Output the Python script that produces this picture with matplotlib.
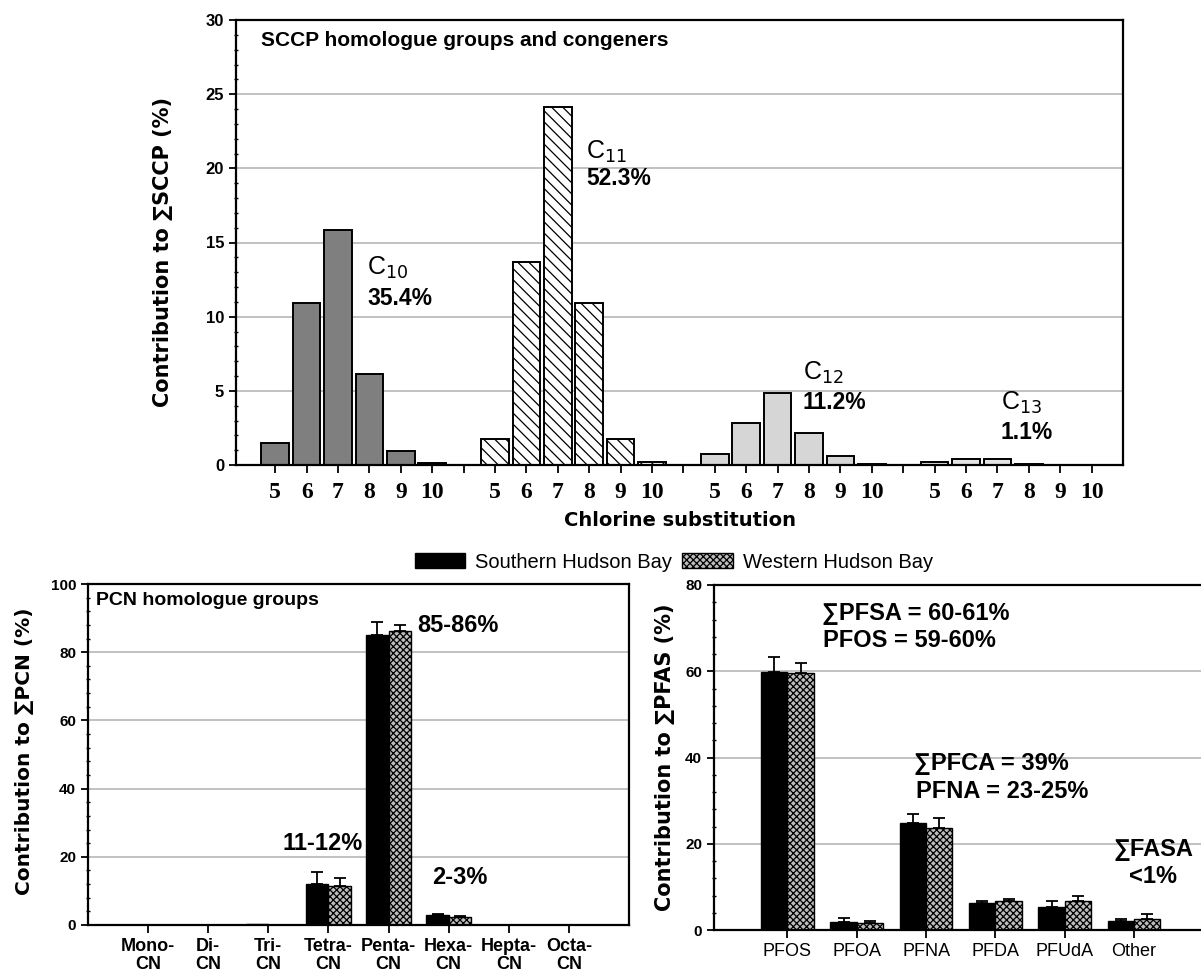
import matplotlib.pyplot as plt
import numpy as np
from matplotlib.patches import Patch
from matplotlib.ticker import AutoMinorLocator, MultipleLocator

W, H = 1201, 977

# SCCP: contribution (%) by chlorine number for each carbon chain length
chlorine = [5, 6, 7, 8, 9, 10]
sccp_names = ["C$_{10}$", "C$_{11}$", "C$_{12}$", "C$_{13}$"]
sccp_totals = ["35.4%", "52.3%", "11.2%", "1.1%"]
c10 = [1.46, 10.9, 15.85, 6.13, 0.97, 0.16]
c11 = [1.73, 13.7, 24.15, 10.9, 1.73, 0.22]
c12 = [0.74, 2.8, 4.87, 2.17, 0.6, 0.1]
c13 = [0.22, 0.38, 0.38, 0.1, 0.0, 0.0]

# PCN homologue groups
pcn_groups = ["Mono-\nCN", "Di-\nCN", "Tri-\nCN", "Tetra-\nCN", "Penta-\nCN",
              "Hexa-\nCN", "Hepta-\nCN", "Octa-\nCN"]
pcn_south = [0.0, 0.0, 0.3, 11.9, 85.0, 2.9, 0.0, 0.0]
pcn_south_err = [0.0, 0.0, 0.0, 3.7, 3.8, 0.3, 0.0, 0.0]
pcn_west = [0.0, 0.0, 0.1, 11.4, 86.2, 2.4, 0.0, 0.0]
pcn_west_err = [0.0, 0.0, 0.0, 2.4, 1.9, 0.2, 0.0, 0.0]

# PFAS
pfas_groups = ["PFOS", "PFOA", "PFNA", "PFDA", "PFUdA", "Other"]
pfas_south = [59.9, 1.8, 24.7, 6.3, 5.4, 2.1]
pfas_south_err = [3.3, 0.9, 2.2, 0.4, 1.3, 0.4]
pfas_west = [59.5, 1.7, 23.6, 6.7, 6.8, 2.6]
pfas_west_err = [2.3, 0.4, 2.4, 0.4, 1.2, 1.1]

NARROW = ["Liberation Sans Narrow", "Liberation Sans", "DejaVu Sans"]
ARIAL = ["Liberation Sans", "DejaVu Sans"]
GRID = "#b0b0b0"
WEST_FACE = "#bdbdbd"
WEST_HATCH = "xxxxx"

plt.rcParams["hatch.linewidth"] = 0.9
plt.rcParams["axes.linewidth"] = 1.6

fig = plt.figure(figsize=(W / 100, H / 100), dpi=100)


def px_axes(l, t, r, b):
    return fig.add_axes([l / W, 1 - b / H, (r - l) / W, (b - t) / H])


def style_y(ax, major, top, fs=11):
    ax.set_ylim(0, top)
    ax.yaxis.set_major_locator(MultipleLocator(major))
    ax.yaxis.set_minor_locator(AutoMinorLocator(5))
    for y in np.arange(major, top, major):
        ax.axhline(y, color=GRID, lw=1.1, zorder=0)
    ax.tick_params(axis="y", which="major", length=5, width=1.3, direction="out")
    ax.tick_params(axis="y", which="minor", length=3, width=1.0, direction="inout")
    ax.tick_params(axis="x", length=6, width=1.3, direction="out")
    for lab in ax.get_yticklabels():
        lab.set_fontfamily(NARROW)
        lab.set_fontweight("bold")
        lab.set_fontsize(fs)


# ---------------- SCCP panel ----------------
ax1 = px_axes(236, 20, 1123, 465)
sccp_series = [c10, c11, c12, c13]
sccp_styles = [("#7f7f7f", None), ("white", "\\\\\\"), ("#d6d6d6", None), ("#e4e4e4", None)]
positions = []
labels = []
for g, (vals, (fc, hatch)) in enumerate(zip(sccp_series, sccp_styles)):
    x = np.arange(len(chlorine)) + g * 7
    ax1.bar(x, vals, width=0.88, color=fc, hatch=hatch, edgecolor="black",
            linewidth=1.4, zorder=2)
    positions.extend(list(x))
    labels.extend([str(c) for c in chlorine])
    if g < 3:
        positions.append(g * 7 + 6)
        labels.append("")
ax1.set_xlim(-1.25, 27)
ax1.set_xticks(positions)
ax1.set_xticklabels(labels, fontfamily=["Liberation Serif", "DejaVu Serif"],
                    fontweight="bold", fontsize=17)
style_y(ax1, 5, 30, fs=12)
ax1.tick_params(axis="x", pad=6)

name_pos = [(2.92, 13.3, 11.2), (9.9, 21.1, 19.3), (16.8, 6.2, 4.2), (23.1, 4.2, 2.2)]
for (x, yn, yp), name, tot in zip(name_pos, sccp_names, sccp_totals):
    ax1.text(x, yn, name, fontsize=18, fontfamily=ARIAL, va="center", ha="left")
    ax1.text(x, yp, tot, fontsize=16.5, fontfamily=ARIAL, fontweight="bold",
             va="center", ha="left")
ax1.text(0.028, 0.955, "SCCP homologue groups and congeners", transform=ax1.transAxes,
         fontsize=15, fontfamily=NARROW, fontweight="bold", va="center", ha="left")
fig.text(163 / W, 1 - 252 / H, "Contribution to \u2211SCCP (%)", rotation=90,
         fontsize=15, fontweight="bold", ha="center", va="center")
fig.text(680 / W, 1 - 521 / H, "Chlorine substitution", fontsize=14,
         fontweight="bold", ha="center", va="center")


def paired_bars(ax, south, south_err, west, west_err, width):
    x = np.arange(len(south))
    ax.bar(x - width / 2, south, width=width, color="black", edgecolor="black",
           linewidth=1.0, zorder=2)
    ax.bar(x + width / 2, west, width=width, color=WEST_FACE, hatch=WEST_HATCH,
           edgecolor="black", linewidth=1.0, zorder=2)
    for off, vals, errs in [(-width / 2, south, south_err), (width / 2, west, west_err)]:
        vals = np.asarray(vals)
        errs = np.asarray(errs)
        m = errs > 0
        ax.errorbar(x[m] + off, vals[m], yerr=[np.zeros(m.sum()), errs[m]], fmt="none",
                    ecolor="black", elinewidth=1.3, capsize=4, capthick=1.3, zorder=3)
    ax.set_xticks(x)
    return x


# ---------------- PCN panel ----------------
ax2 = px_axes(88, 584, 629, 925)
paired_bars(ax2, pcn_south, pcn_south_err, pcn_west, pcn_west_err, 0.37)
ax2.set_xlim(-1, 8)
ax2.set_xticklabels(pcn_groups, fontfamily=NARROW, fontweight="bold", fontsize=13,
                    linespacing=1.1)
style_y(ax2, 20, 100)
ax2.text(0.015, 0.953, "PCN homologue groups", transform=ax2.transAxes, fontsize=14,
         fontfamily=NARROW, fontweight="bold", va="center", ha="left")
for x, y, s in [(4.47, 87.7, "85-86%"), (2.24, 24.0, "11-12%"), (4.72, 14.0, "2-3%")]:
    ax2.text(x, y, s, fontsize=17, fontfamily=ARIAL, fontweight="bold",
             va="center", ha="left")
fig.text(25 / W, 1 - 751 / H, "Contribution to \u2211PCN (%)", rotation=90,
         fontsize=14.5, fontweight="bold", ha="center", va="center")

# ---------------- PFAS panel ----------------
ax3 = px_axes(714, 585, 1238, 930)
paired_bars(ax3, pfas_south, pfas_south_err, pfas_west, pfas_west_err, 0.38)
ax3.set_xlim(-1.06, 6.5)
ax3.set_xticklabels(pfas_groups, fontfamily=ARIAL, fontsize=13)
style_y(ax3, 20, 80)
for x, y, s in [(0.50, 73.5, "\u2211PFSA = 60-61%"), (0.51, 67.2, "PFOS = 59-60%"),
                (1.83, 38.7, "\u2211PFCA = 39%"), (1.86, 32.2, "PFNA = 23-25%"),
                (4.70, 18.6, "\u2211FASA")]:
    ax3.text(x, y, s, fontsize=17, fontfamily=ARIAL, fontweight="bold",
             va="center", ha="left")
ax3.text(5.27, 12.3, "<1%", fontsize=17, fontfamily=ARIAL, fontweight="bold",
         va="center", ha="center")
fig.text(665 / W, 1 - 757 / H, "Contribution to \u2211PFAS (%)", rotation=90,
         fontsize=15, fontweight="bold", ha="center", va="center")

# ---------------- shared legend ----------------
handles = [Patch(facecolor="black", edgecolor="black"),
           Patch(facecolor=WEST_FACE, hatch=WEST_HATCH, edgecolor="black")]
fig.legend(handles, ["Southern Hudson Bay", "Western Hudson Bay"], loc="center",
           bbox_to_anchor=(674 / W, 1 - 562 / H), ncol=2, frameon=False,
           prop={"family": ARIAL, "size": 14.5}, handlelength=2.5, handleheight=0.7,
           handletextpad=0.5, columnspacing=0.5, borderpad=0)

fig.savefig("out.png", dpi=100)
